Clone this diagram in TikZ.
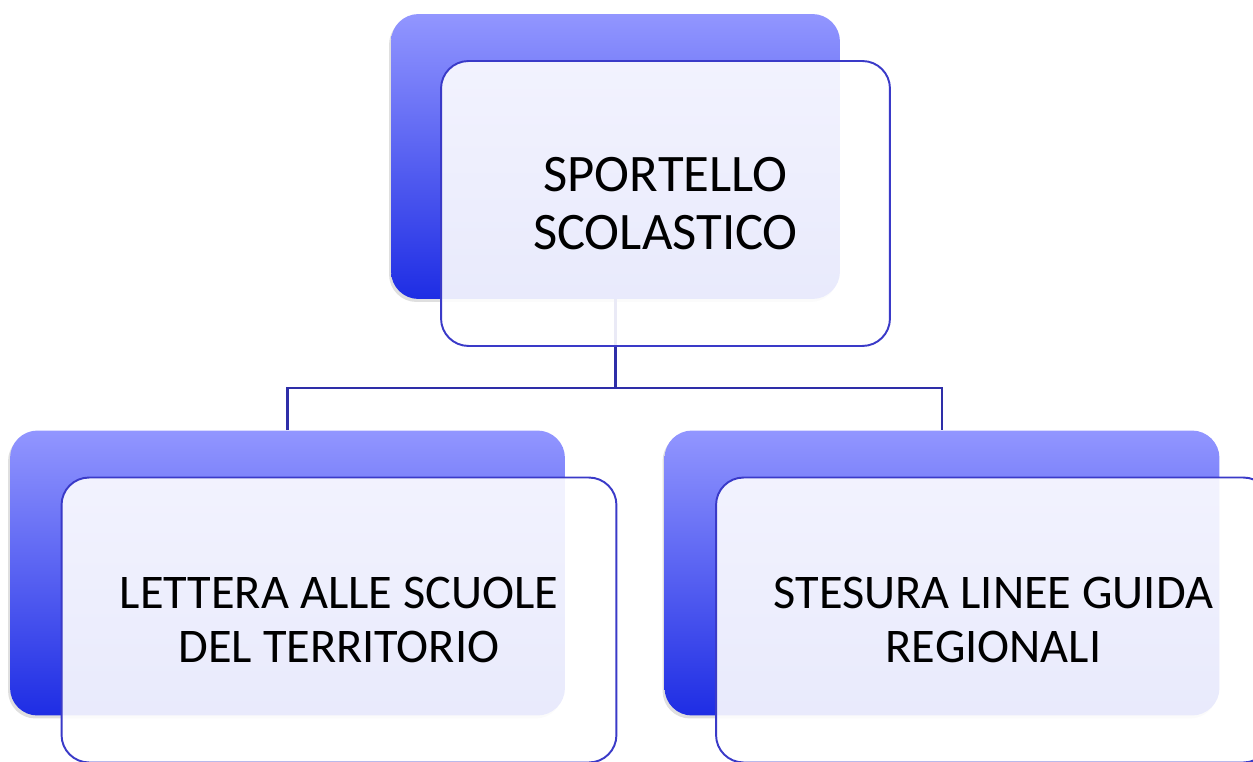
\documentclass[tikz,border=0pt]{standalone}
\usepackage{fontspec}
\setmainfont{Carlito}
\usetikzlibrary{positioning,shadows}
\definecolor{boxtop}{RGB}{146,150,255}
\definecolor{boxbottom}{RGB}{30,45,228}
\definecolor{boxline}{RGB}{58,58,200}
\definecolor{linkline}{RGB}{46,46,168}
\tikzset{
    backbox/.style = {rounded corners = 0.55cm, top color = boxtop, bottom color = boxbottom,
        minimum height = 5.7cm, drop shadow = {shadow xshift = -0.04cm, shadow yshift = -0.06cm, opacity = 0.25}},
    textbox/.style = {draw = boxline, line width = 1.1pt, rounded corners = 0.55cm,
        fill = white, fill opacity = 0.9, text opacity = 1, minimum height = 5.7cm,
        align = center, font = \fontsize{27.5}{31}\selectfont},
    link/.style = {draw = linkline, line width = 1.2pt}
}
\begin{document}
\begin{tikzpicture}[x = 0.02cm, y = -0.02cm]
        \useasboundingbox (0,0) rectangle (1253,761);
        \clip (0,0) rectangle (1253,761);
        % coloured boxes behind
        \node[backbox, minimum width = 8.98cm] (sport) at (615.5,156.5) {};
        \node[backbox, minimum width = 11.1cm] (lett) at (287.5,573) {};
        \node[backbox, minimum width = 11.1cm] (linee) at (942,573) {};
        % connectors
        \coordinate (fork) at (615.5,388);
        \draw[link] (sport.south) -- (fork);
        \draw[link] (lett.north) |- (fork) -| (linee.north);
        % text boxes in front
        \node[textbox, minimum width = 8.98cm, xshift = 1cm, yshift = -0.94cm,
            font = \fontsize{30}{32.6}\selectfont] (sporttext) at (sport) {SPORTELLO\\SCOLASTICO};
        \node[textbox, minimum width = 11.1cm, xshift = 1.03cm, yshift = -0.94cm] (letttext) at (lett) {LETTERA ALLE SCUOLE\\DEL TERRITORIO};
        \node[textbox, minimum width = 11.1cm, xshift = 1.03cm, yshift = -0.94cm] (lineetext) at (linee) {STESURA LINEE GUIDA\\REGIONALI};
    \end{tikzpicture}
\end{document}
